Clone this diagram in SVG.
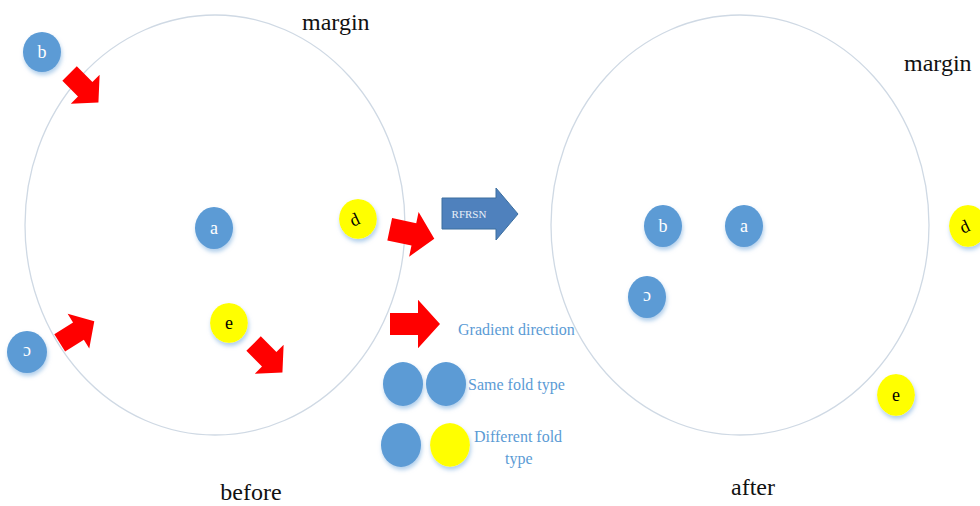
<svg xmlns="http://www.w3.org/2000/svg" width="980" height="506" viewBox="0 0 980 506">
<defs>
<filter id="sh" x="-30%" y="-30%" width="160%" height="170%">
<feDropShadow dx="1" dy="3" stdDeviation="2" flood-color="#9dc3e6" flood-opacity="0.8"/>
</filter>
<path id="rarrow" d="M-25,-10 L3,-10 L3,-22 L25,0 L3,22 L3,10 L-25,10 Z"/>
<path id="rarrow2" d="M-24,-12 L2,-12 L2,-24 L24,0 L2,24 L2,12 L-24,12 Z"/>
</defs>
<style>
.ring{fill:none;stroke:#cfd9e4;stroke-width:1.3}
.blue{fill:#5b9bd5;filter:url(#sh)}
.yel{fill:#ffff00;filter:url(#sh)}
.red{fill:#ff0000}
.lb{font-family:"Liberation Serif",serif;font-size:18px;text-anchor:middle}
.lw{fill:#ffffff}
.lk{fill:#000000}
.cap{font-family:"Liberation Serif",serif;font-size:24px;fill:#111}
.leg{font-family:"Liberation Serif",serif;font-size:16px;fill:#5b9bd5}
</style>
<rect width="980" height="506" fill="#ffffff"/>
<g id="before-ring"><ellipse class="ring" cx="215" cy="225" rx="190" ry="210"/></g>
<g id="after-ring"><ellipse class="ring" cx="740" cy="225" rx="189" ry="210"/></g>
<text class="cap" x="302" y="30">margin</text>
<text class="cap" x="904" y="71">margin</text>
<text class="cap" x="251" y="500" text-anchor="middle">before</text>
<text class="cap" x="753" y="495" text-anchor="middle">after</text>
<g id="connectors">
<use href="#rarrow2" class="red" transform="translate(84,88) rotate(45) scale(0.85)"/>
<use href="#rarrow2" class="red" transform="translate(412,234) rotate(12) scale(0.95)"/>
<use href="#rarrow2" class="red" transform="translate(77,332) rotate(-32) scale(0.85)"/>
<use href="#rarrow2" class="red" transform="translate(268,358) rotate(45) scale(0.85)"/>
</g>
<g id="b1"><ellipse class="blue" cx="42" cy="52" rx="19" ry="20"/><text class="lb lw" x="42" y="58">b</text></g>
<g id="a1"><ellipse class="blue" cx="214" cy="228" rx="19" ry="21"/><text class="lb lw" x="214" y="234">a</text></g>
<g id="d1"><ellipse class="yel" cx="358" cy="219" rx="19" ry="20"/><text class="lb lk" x="0" y="0" transform="translate(357,225) rotate(-25)">d</text></g>
<g id="c1"><ellipse class="blue" cx="27" cy="352" rx="20" ry="21"/><text class="lb lw" x="0" y="0" transform="translate(27,347) rotate(180)">c</text></g>
<g id="e1"><ellipse class="yel" cx="229" cy="323" rx="19" ry="20"/><text class="lb lk" x="229" y="329">e</text></g>
<g id="rfrsn">
<path d="M442,198 L496,198 L496,188 L518,214 L496,240 L496,229 L442,229 Z" fill="#4f81bd" stroke="#3d6f9f" stroke-width="1"/>
<text x="469" y="218" font-family="Liberation Serif,serif" font-size="11" fill="#e8f0f8" text-anchor="middle">RFRSN</text>
</g>
<g id="b2"><ellipse class="blue" cx="663" cy="226" rx="19" ry="21"/><text class="lb lw" x="663" y="232">b</text></g>
<g id="a2"><ellipse class="blue" cx="744" cy="226" rx="19" ry="21"/><text class="lb lw" x="744" y="232">a</text></g>
<g id="c2"><ellipse class="blue" cx="647" cy="297" rx="19" ry="21"/><text class="lb lw" x="0" y="0" transform="translate(647,292) rotate(180)">c</text></g>
<g id="d2"><ellipse class="yel" cx="968" cy="226" rx="19" ry="21"/><text class="lb lk" x="0" y="0" transform="translate(967,232) rotate(-25)">d</text></g>
<g id="e2"><ellipse class="yel" cx="896" cy="395" rx="19" ry="21"/><text class="lb lk" x="896" y="401">e</text></g>
<g id="legend">
<use href="#rarrow" class="red" transform="translate(415,324) scale(1,1.1)"/>
<text class="leg" x="458" y="335">Gradient direction</text>
<ellipse class="blue" cx="403" cy="384" rx="20" ry="22"/>
<ellipse class="blue" cx="446" cy="384" rx="20" ry="22"/>
<text class="leg" x="468" y="390">Same fold type</text>
<ellipse class="blue" cx="401" cy="445" rx="20" ry="22"/>
<ellipse class="yel" cx="450" cy="445" rx="20" ry="22"/>
<text class="leg" x="474" y="442">Different fold</text>
<text class="leg" x="505" y="464">type</text>
</g>
</svg>
